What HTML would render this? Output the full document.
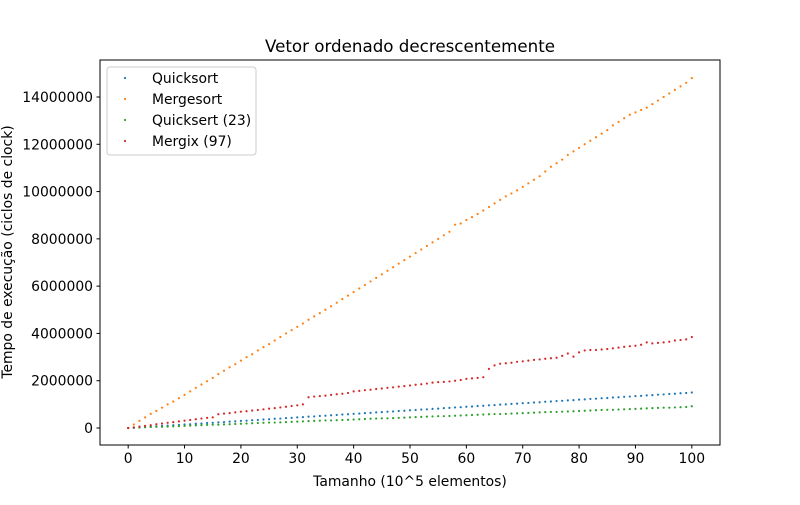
<!DOCTYPE html>
<html><head><meta charset="utf-8"><style>
body{margin:0;background:#fff}
text{font-family:"DejaVu Sans","Liberation Sans",sans-serif;fill:#000}
</style></head><body>
<svg id="chart" width="800" height="500" xmlns="http://www.w3.org/2000/svg">
<rect width="800" height="500" fill="#fff"/>
<text x="410" y="52" text-anchor="middle" font-size="16.7">Vetor ordenado decrescentemente</text>
<g id="plot"></g>
<rect x="100" y="60" width="620" height="385" fill="none" stroke="#000" stroke-width="1"/>
<text x="410" y="486" text-anchor="middle" font-size="13.9">Tamanho (10^5 elementos)</text>
<text transform="translate(12,252) rotate(-90)" text-anchor="middle" font-size="13.9">Tempo de execução (ciclos de clock)</text>
<g>
<rect x="107" y="67" width="149" height="88" rx="3" fill="#fff" fill-opacity="0.8" stroke="#ccc"/>
</g>
</svg>
<script>
const xTicks=[0,10,20,30,40,50,60,70,80,90,100];
const yTicks=[0,2000000,4000000,6000000,8000000,10000000,12000000,14000000];
const seriesNames=["Quicksort","Mergesort","Quicksert (23)","Mergix (97)"];
const seriesColors=["#1f77b4","#ff7f0e","#2ca02c","#d62728"];
const quicksort=[0,.01,.03,.04,.06,.07,.09,.10,.12,.13,.15,.16,.18,.19,.21,.22,.24,.25,.27,.28,.30,.31,.33,.34,.36,.37,.39,.40,.42,.43,.45,.46,.48,.49,.51,.52,.54,.55,.57,.58,.60,.61,.63,.64,.66,.67,.69,.70,.72,.73,.75,.76,.78,.79,.81,.82,.84,.85,.87,.88,.90,.91,.93,.94,.96,.97,.99,1.0,1.02,1.03,1.05,1.06,1.08,1.09,1.11,1.12,1.14,1.15,1.17,1.18,1.20,1.21,1.23,1.24,1.26,1.27,1.29,1.30,1.32,1.33,1.35,1.36,1.38,1.39,1.41,1.42,1.44,1.45,1.47,1.48,1.50];
const mergesort=[0,.15,.3,.45,.6,.72,.86,1.0,1.12,1.26,1.40,1.55,1.70,1.84,1.98,2.12,2.28,2.42,2.57,2.70,2.85,3.0,3.12,3.28,3.42,3.55,3.70,3.85,4.0,4.14,4.28,4.42,4.58,4.72,4.86,5.0,5.15,5.30,5.45,5.60,5.75,5.90,6.05,6.20,6.35,6.50,6.65,6.80,6.95,7.10,7.25,7.40,7.55,7.70,7.85,8.0,8.15,8.30,8.60,8.65,8.80,8.92,9.05,9.20,9.35,9.50,9.65,9.80,9.92,10.05,10.20,10.35,10.50,10.65,10.85,11.05,11.20,11.35,11.55,11.70,11.85,12.0,12.15,12.30,12.45,12.60,12.80,12.95,13.10,13.25,13.35,13.45,13.55,13.70,13.85,14.00,14.15,14.30,14.45,14.60,14.80];
const quicksert=[0,.01,.02,.03,.04,.05,.05,.06,.07,.08,.09,.10,.11,.12,.13,.14,.14,.15,.16,.17,.18,.19,.20,.21,.22,.23,.23,.24,.25,.26,.27,.28,.29,.30,.31,.32,.32,.33,.34,.35,.36,.37,.38,.39,.40,.41,.41,.42,.43,.44,.45,.46,.47,.48,.49,.50,.50,.51,.52,.53,.54,.55,.56,.57,.58,.59,.59,.60,.61,.62,.63,.64,.65,.66,.67,.68,.68,.69,.70,.71,.72,.73,.74,.75,.76,.77,.77,.78,.79,.80,.81,.82,.83,.84,.85,.86,.86,.87,.88,.89,.92];
const mergix=[0,.03,.06,.09,.12,.16,.19,.22,.25,.28,.31,.34,.37,.40,.43,.45,.58,.61,.63,.66,.69,.71,.74,.76,.79,.82,.84,.87,.90,.93,.96,1.00,1.30,1.33,1.35,1.37,1.40,1.43,1.45,1.48,1.55,1.57,1.60,1.62,1.65,1.67,1.70,1.72,1.75,1.77,1.80,1.83,1.85,1.88,1.92,1.94,1.95,1.97,2.00,2.03,2.08,2.10,2.12,2.15,2.50,2.65,2.72,2.74,2.76,2.80,2.82,2.85,2.88,2.90,2.93,2.95,2.97,3.05,3.15,3.02,3.20,3.28,3.30,3.30,3.32,3.34,3.37,3.40,3.43,3.46,3.48,3.52,3.62,3.58,3.60,3.62,3.65,3.70,3.72,3.75,3.85];
const NS="http://www.w3.org/2000/svg";
const xs=v=>100+(v+5)/110*620;
const ys=v=>428-v/1e6*23.643;
const svg=document.getElementById('chart');
const plot=document.getElementById('plot');
function mk(tag,attrs,parent){const e=document.createElementNS(NS,tag);for(const k in attrs)e.setAttribute(k,attrs[k]);(parent||svg).appendChild(e);return e;}
xTicks.forEach(t=>{
  const l=mk('line',{x1:xs(t),x2:xs(t),y1:445,y2:448.5,stroke:'#000'});
  
  
  const tx=mk('text',{x:xs(t),y:463,'text-anchor':'middle','font-size':'13.9'});tx.textContent=t;
  
  
});
yTicks.forEach(t=>{
  const l=mk('line',{x1:96.5,x2:100,y1:ys(t),y2:ys(t),stroke:'#000'});
  
  
  const tx=mk('text',{x:93,y:ys(t)+5,'text-anchor':'end','font-size':'13.9'});tx.textContent=t;
  
  
});
const allSeries=[quicksort,mergesort,quicksert,mergix];
allSeries.forEach((arr,si)=>{
  const g=mk('g',{},plot);
  
  
  arr.forEach((v,i)=>{
    const c=mk('circle',{cx:xs(i),cy:ys(v*1e6),r:1.1,fill:seriesColors[si]},g);
    
    
  });
});
seriesNames.forEach((n,i)=>{
  const y=78+i*21;
  const g=mk('g',{});
  
  
  mk('circle',{cx:125,cy:y,r:1.1,fill:seriesColors[i]},g);
  const t=mk('text',{x:152,y:y+5,'font-size':'13.9'},g);t.textContent=n;
});
</script>
</body></html>
